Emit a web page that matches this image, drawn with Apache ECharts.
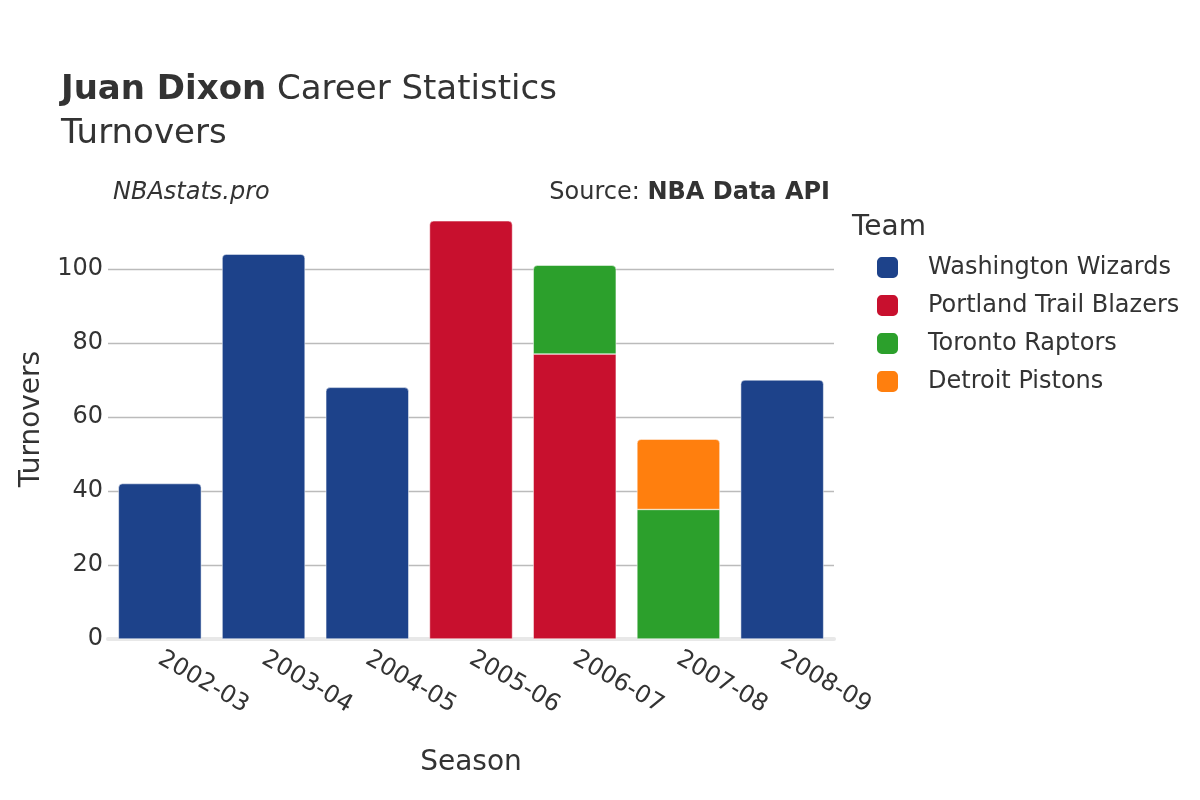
<!DOCTYPE html>
<html>
<head>
<meta charset="utf-8">
<script src="https://cdn.jsdelivr.net/npm/echarts@6/dist/echarts.min.js"></script>
<style>html,body{margin:0;padding:0;background:#fff;}#c{width:1200px;height:800px;}</style>
</head>
<body>
<div id="c"></div>
<script>
const seasons = ['2002-03','2003-04','2004-05','2005-06','2006-07','2007-08','2008-09'];
const teams = ['Washington Wizards','Portland Trail Blazers','Toronto Raptors','Detroit Pistons'];
const colors = ['#1d428a','#c8102e','#2ca02c','#ff7f0e'];
const washington = [42, 104, 68, null, null, null, 70];
const portland   = [null, null, null, 113, 77, null, null];
const toronto    = [null, null, null, null, 24, 35, null];
const detroit    = [null, null, null, null, null, 19, null];
const yTicks = [0, 20, 40, 60, 80, 100];

const values = [washington, portland, toronto, detroit];
const font = 'DejaVu Sans';

const series = values.map((arr, si) => ({
  name: teams[si],
  type: 'bar',
  stack: 'total',
  barCategoryGap: '20%',
  itemStyle: { color: colors[si], borderColor: '#fff', borderWidth: 0.5 },
  data: arr.map((v, i) => {
    if (v == null) return null;
    let top = true;
    for (let k = si + 1; k < values.length; k++) if (values[k][i] != null) top = false;
    return { value: v, itemStyle: { borderRadius: top ? [4, 4, 0, 0] : 0 } };
  })
}));

const chart = echarts.init(document.getElementById('c'));
chart.setOption({
  backgroundColor: '#fff',
  animation: false,
  textStyle: { fontFamily: font },
  grid: { left: 108, right: 366, top: 199, bottom: 161, outerBoundsMode: 'none', containLabel: false },
  title: [{
    left: 56, top: 63,
    text: '{b|Juan Dixon} Career Statistics\nTurnovers',
    textStyle: {
      fontFamily: font, fontSize: 34, color: '#333', fontWeight: 'normal', lineHeight: 44,
      rich: { b: { fontFamily: font, fontSize: 34, fontWeight: 'bold', color: '#333', lineHeight: 44 } }
    }
  }],
  graphic: [
    { type: 'text', left: 113, top: 181, style: { text: 'NBAstats.pro', font: 'italic 24px "DejaVu Sans"', fill: '#333' } },
    { type: 'text', right: 370, top: 181, style: { text: '{n|Source: }{b|NBA Data API}', rich: { n: { font: '24px "DejaVu Sans"', fill: '#333' }, b: { font: 'bold 24px "DejaVu Sans"', fill: '#333' } } } },
    { type: 'text', left: 852, top: 214, style: { text: 'Team', font: '28px "DejaVu Sans"', fill: '#333' } }
  ],
  legend: {
    orient: 'vertical', left: 870, top: 250,
    icon: 'roundRect', itemWidth: 23, itemHeight: 23, itemGap: 13,
    textStyle: { fontFamily: font, fontSize: 24, color: '#333', padding: [0, 0, 0, 24] },
    data: teams
  },
  xAxis: {
    type: 'category', data: seasons,
    name: 'Season', nameLocation: 'middle', nameGap: 110,
    nameTextStyle: { fontFamily: font, fontSize: 28, color: '#333' },
    axisLine: { show: true, lineStyle: { color: '#e8e8e8', width: 4 } },
    axisTick: { show: false },
    axisLabel: { rotate: -30, fontFamily: font, fontSize: 24, color: '#333', margin: 18 }
  },
  yAxis: {
    type: 'value', min: 0, max: 118.9, interval: 20,
    name: 'Turnovers', nameLocation: 'middle', nameGap: 62,
    nameTextStyle: { fontFamily: font, fontSize: 28, color: '#333' },
    axisLine: { show: false }, axisTick: { show: false },
    axisLabel: { fontFamily: font, fontSize: 24, color: '#333', margin: 5, showMaxLabel: false,
      formatter: v => yTicks.includes(v) ? String(v) : '' },
    splitLine: { showMaxLine: false, lineStyle: { color: '#bbb', width: 1.3 } }
  },
  series: series
});
</script>
</body>
</html>
